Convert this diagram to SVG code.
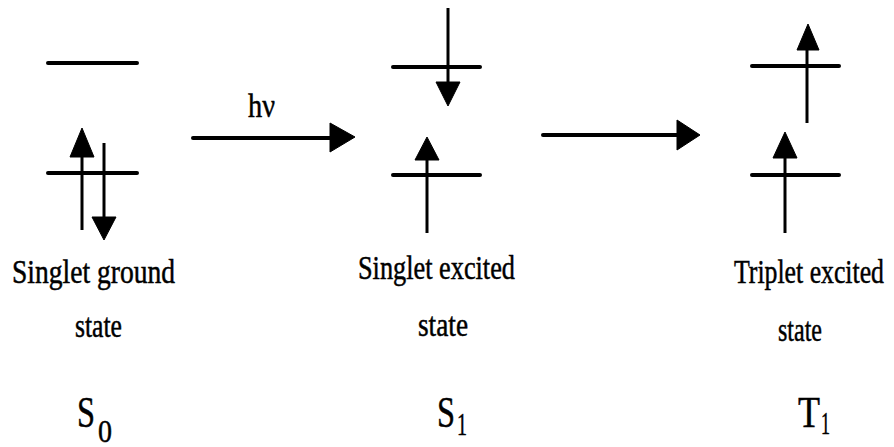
<svg xmlns="http://www.w3.org/2000/svg" width="894" height="447" viewBox="0 0 894 447">
<style>
.lvl{stroke:#000;stroke-width:4;stroke-linecap:round;fill:none}
.sh{stroke:#000;stroke-width:3;fill:none}
.hd{fill:#000;stroke:#000;stroke-width:1;stroke-linejoin:round}
.t{font-family:"Liberation Serif","Times New Roman",serif;font-size:34px;fill:#000;stroke:#000;stroke-width:0.5}
.big{font-family:"Liberation Serif","Times New Roman",serif;font-size:44px;fill:#000;stroke:#000;stroke-width:0.5}
.sub{font-family:"Liberation Serif","Times New Roman",serif;font-size:32px;fill:#000;stroke:#000;stroke-width:0.5}
</style>
<rect width="894" height="447" fill="#fff"/>
<g id="S0">
<line class="lvl" x1="48" y1="63" x2="137" y2="63"/>
<line class="lvl" x1="48" y1="173" x2="137" y2="173"/>
<line class="sh" x1="82" y1="230" x2="82" y2="152"/>
<polygon class="hd" points="70,157 82,128 94,157"/>
<line class="sh" x1="104" y1="143" x2="104" y2="222"/>
<polygon class="hd" points="92,217 104,240 116,217"/>
<text class="t" x="12" y="283" textLength="163" lengthAdjust="spacingAndGlyphs">Singlet ground</text>
<text class="t" x="75" y="337" textLength="47" lengthAdjust="spacingAndGlyphs">state</text>
<text class="big" x="77" y="427" textLength="18" lengthAdjust="spacingAndGlyphs">S</text>
<text class="sub" x="98" y="442" font-size="36" textLength="14" lengthAdjust="spacingAndGlyphs">0</text>
</g>
<g id="S1">
<line class="lvl" x1="393" y1="67" x2="480" y2="67"/>
<line class="lvl" x1="393" y1="175" x2="480" y2="175"/>
<line class="sh" x1="448" y1="8" x2="448" y2="86"/>
<polygon class="hd" points="436,82 448,106 460,82"/>
<line class="sh" x1="427" y1="233" x2="427" y2="156"/>
<polygon class="hd" points="415,160 427,137 439,160"/>
<text class="t" x="358" y="279" textLength="157" lengthAdjust="spacingAndGlyphs">Singlet excited</text>
<text class="t" x="418" y="336" textLength="50" lengthAdjust="spacingAndGlyphs">state</text>
<text class="big" x="437" y="427" textLength="18" lengthAdjust="spacingAndGlyphs">S</text>
<text class="sub" x="457" y="435" textLength="10" lengthAdjust="spacingAndGlyphs">1</text>
</g>
<g id="T1">
<line class="lvl" x1="752" y1="66" x2="839" y2="66"/>
<line class="lvl" x1="752" y1="175" x2="839" y2="175"/>
<line class="sh" x1="807" y1="123" x2="807" y2="48"/>
<polygon class="hd" points="797,50 808,24 819,50"/>
<line class="sh" x1="785" y1="233" x2="785" y2="154"/>
<polygon class="hd" points="773,158 785,132 797,158"/>
<text class="t" x="734" y="283" textLength="150" lengthAdjust="spacingAndGlyphs">Triplet excited</text>
<text class="t" x="778" y="341" textLength="44" lengthAdjust="spacingAndGlyphs">state</text>
<text class="big" x="798" y="427" textLength="22" lengthAdjust="spacingAndGlyphs">T</text>
<text class="sub" x="821" y="434" textLength="9" lengthAdjust="spacingAndGlyphs">1</text>
</g>
<g id="connectors">
<line class="lvl" x1="193" y1="138" x2="333" y2="138"/>
<polygon class="hd" points="330,123 355,137 330,152"/>
<text class="t" x="248" y="117" font-size="36" textLength="27" lengthAdjust="spacingAndGlyphs">hν</text>
<line class="lvl" x1="543" y1="135" x2="680" y2="135"/>
<polygon class="hd" points="677,120 700,135 677,150"/>
</g>
</svg>
